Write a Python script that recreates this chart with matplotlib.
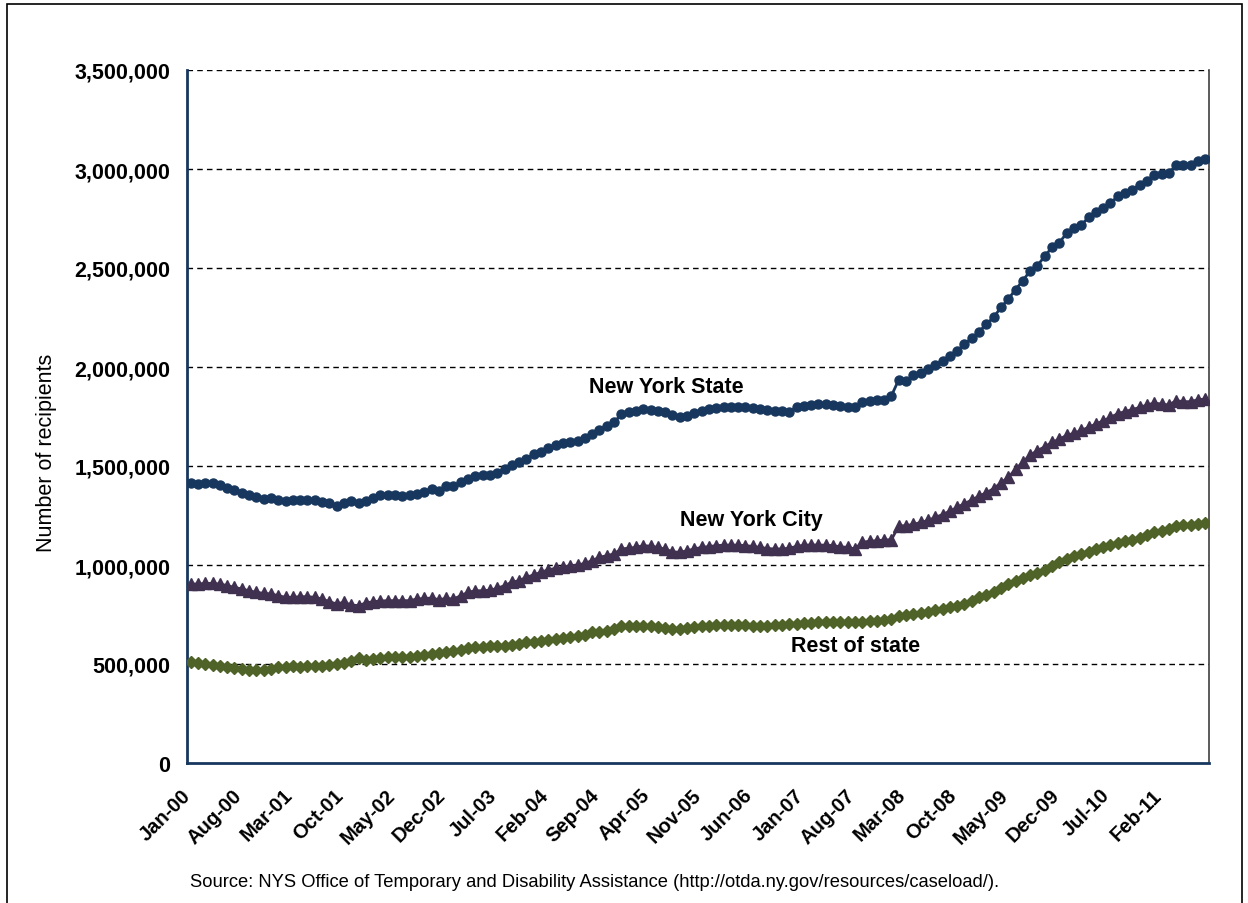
import numpy as np
import pandas as pd
import matplotlib
matplotlib.use('Agg')
import matplotlib.pyplot as plt
import matplotlib.transforms as mtransforms
from matplotlib.ticker import FuncFormatter
from matplotlib.patches import Rectangle

# monthly recipients, in thousands (Jan-00 .. Aug-11)
nys = [1415, 1409, 1415, 1412, 1404, 1390, 1377, 1365, 1352, 1345,
       1333, 1336, 1330, 1325, 1330, 1330, 1330, 1330, 1318, 1313,
       1298, 1315, 1325, 1313, 1325, 1340, 1352, 1355, 1352, 1350,
       1352, 1357, 1367, 1384, 1375, 1397, 1397, 1418, 1434, 1448,
       1455, 1456, 1466, 1485, 1507, 1522, 1536, 1561, 1572, 1589,
       1606, 1615, 1620, 1624, 1640, 1662, 1684, 1704, 1720, 1762,
       1771, 1779, 1786, 1781, 1777, 1773, 1760, 1748, 1752, 1767,
       1778, 1790, 1793, 1796, 1800, 1800, 1797, 1793, 1789, 1783,
       1779, 1779, 1774, 1796, 1805, 1806, 1813, 1813, 1806, 1801,
       1798, 1796, 1822, 1830, 1833, 1835, 1855, 1936, 1928, 1960,
       1972, 1990, 2010, 2032, 2057, 2082, 2116, 2145, 2178, 2217,
       2251, 2301, 2343, 2391, 2436, 2486, 2512, 2560, 2604, 2628,
       2676, 2702, 2717, 2756, 2781, 2803, 2828, 2862, 2879, 2896,
       2921, 2941, 2971, 2975, 2980, 3020, 3020, 3022, 3042, 3050]

nyc = [904, 904, 907, 907, 904, 896, 887, 879, 870, 862,
       857, 854, 845, 837, 837, 840, 840, 837, 828, 815,
       803, 812, 798, 795, 808, 815, 818, 820, 820, 820,
       820, 828, 831, 833, 825, 831, 828, 845, 862, 870,
       870, 873, 882, 896, 913, 921, 938, 950, 963, 976,
       983, 988, 997, 1000, 1008, 1022, 1039, 1047, 1056, 1081,
       1085, 1089, 1098, 1095, 1089, 1080, 1067, 1064, 1072, 1081,
       1089, 1093, 1098, 1100, 1101, 1100, 1098, 1094, 1089, 1083,
       1081, 1081, 1085, 1094, 1100, 1101, 1101, 1100, 1098, 1092,
       1089, 1081, 1115, 1120, 1123, 1126, 1128, 1197, 1199, 1205,
       1215, 1225, 1240, 1255, 1272, 1291, 1310, 1328, 1348, 1365,
       1386, 1415, 1443, 1483, 1520, 1555, 1578, 1597, 1620, 1635,
       1655, 1665, 1680, 1695, 1712, 1728, 1746, 1764, 1775, 1785,
       1796, 1808, 1818, 1813, 1808, 1830, 1825, 1825, 1835, 1838]

rest = [508, 505, 500, 495, 491, 483, 480, 476, 472, 468,
        470, 477, 483, 486, 488, 487, 488, 490, 491, 495,
        498, 505, 515, 528, 522, 527, 532, 534, 533, 534,
        534, 539, 545, 550, 556, 562, 567, 572, 579, 584,
        584, 589, 589, 593, 596, 601, 609, 613, 618, 623,
        626, 630, 635, 640, 646, 660, 663, 668, 677, 690,
        692, 694, 694, 690, 685, 680, 677, 677, 681, 685,
        690, 694, 697, 697, 697, 697, 696, 694, 694, 694,
        696, 697, 700, 702, 705, 707, 710, 710, 710, 710,
        710, 712, 714, 716, 719, 723, 727, 740, 745, 753,
        760, 765, 772, 778, 786, 795, 805, 820, 837, 850,
        865, 885, 903, 920, 935, 952, 960, 975, 995, 1015,
        1030, 1045, 1058, 1068, 1080, 1092, 1103, 1113, 1120, 1128,
        1135, 1150, 1165, 1173, 1182, 1195, 1202, 1200, 1207, 1212]

months = pd.date_range('2000-01-01', periods=len(nys), freq='MS')
month_labels = [m.strftime('%b-%y') for m in months]

y_ticks = [0, 500000, 1000000, 1500000, 2000000, 2500000, 3000000, 3500000]

plt.rcParams['font.family'] = ['Liberation Sans', 'DejaVu Sans']

W, H = 1248, 904
fig = plt.figure(figsize=(W / 100, H / 100), dpi=100)
ax = fig.add_axes([187/W, 140/H, 1022/W, 693/H])

x = np.arange(len(nys))
ax.plot(x, np.array(nys) * 1000, '-o', color='#17375E', lw=2, ms=6.5, zorder=5)
ax.plot(x, np.array(nyc) * 1000, '-^', color='#403151', lw=2, ms=8, zorder=4)
ax.plot(x, np.array(rest) * 1000, '-D', color='#4F6228', lw=2, ms=6.5, zorder=3)

ax.set_xlim(-0.5, len(nys) - 0.5)
ax.set_ylim(0, 3500000)
ax.set_yticks(y_ticks)
ax.yaxis.set_major_formatter(FuncFormatter(lambda v, p: f'{int(v):,}'))
for yv in y_ticks[1:]:
    ax.axhline(yv, color='black', lw=1, ls=(0, (4, 3)), zorder=1)

# month labels every 7 months, drawn as rotated texts under the axis
ax.set_xticks(x[::7])
ax.set_xticklabels([])
ax.tick_params(axis='x', length=0)
lab_tr = ax.get_xaxis_transform() + mtransforms.ScaledTranslation(-10/100, -22/100, fig.dpi_scale_trans)
for i in x[::7]:
    ax.text(i, 0, month_labels[i], transform=lab_tr, rotation=45, ha='right', va='top',
            rotation_mode='anchor', fontsize=14.5, fontweight='bold', clip_on=False)

ax.tick_params(axis='y', length=0, pad=12, labelsize=15.5)
for lab in ax.get_yticklabels():
    lab.set_fontweight('bold')

ax.spines['top'].set_visible(False)
ax.spines['left'].set_color('#17375E')
ax.spines['left'].set_linewidth(2)
ax.spines['bottom'].set_color('#17375E')
ax.spines['bottom'].set_linewidth(2)
ax.spines['right'].set_color('#404040')
ax.spines['right'].set_linewidth(1.2)

ax.set_ylabel('Number of recipients', fontsize=15.5)
ax.yaxis.set_label_coords((57 - 187) / 1022, (764 - 453) / 693)

ax.text(666, H - 388, 'New York State', transform=None, fontsize=15.5,
        fontweight='bold', ha='center', va='center')
ax.text(751, H - 521, 'New York City', transform=None, fontsize=15.5,
        fontweight='bold', ha='center', va='center')
ax.text(856, H - 647, 'Rest of state', transform=None, fontsize=15.5,
        fontweight='bold', ha='center', va='center')

fig.text(190/W, 1 - 883/H,
         'Source: NYS Office of Temporary and Disability Assistance (http://otda.ny.gov/resources/caseload/).',
         fontsize=13.2, va='center')

fig.patches.append(Rectangle((7/W, -0.01), 1235/W, 1.01 - 5/H, transform=fig.transFigure,
                             fill=False, edgecolor='black', lw=1.2))

fig.savefig('out.png', dpi=100)
